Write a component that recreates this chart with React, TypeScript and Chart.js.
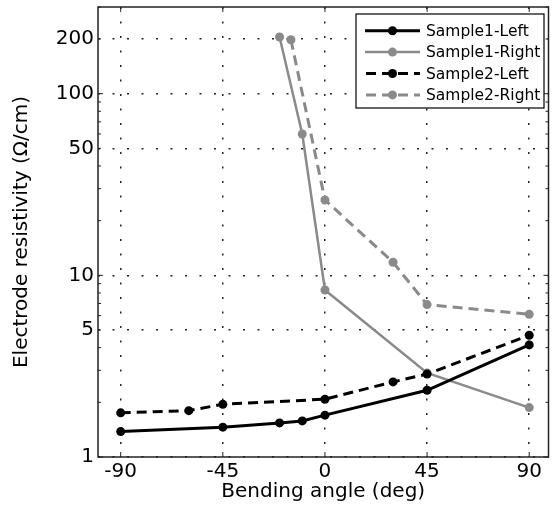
import React, { useEffect, useRef } from "react";
import { Chart, registerables } from "chart.js";

Chart.register(...registerables);

// ---- Data ----
const angles1L = [-90, -45, -20, -10, 0, 45, 90];
const values1L = [1.38, 1.46, 1.54, 1.58, 1.7, 2.33, 4.14];
const angles1R = [-20, -10, 0, 45, 90];
const values1R = [205, 60, 8.3, 2.9, 1.87];
const angles2L = [-90, -60, -45, 0, 30, 45, 90];
const values2L = [1.75, 1.8, 1.95, 2.08, 2.59, 2.86, 4.68];
const angles2R = [-15, 0, 30, 45, 90];
const values2R = [198, 26, 11.8, 6.9, 6.1];
const xTickValues = [-90, -45, 0, 45, 90];
const yTickValues = [1, 5, 10, 50, 100, 200];
const seriesNames = ["Sample1-Left", "Sample1-Right", "Sample2-Left", "Sample2-Right"];
const xTitle = "Bending angle (deg)";
const yTitle = "Electrode resistivity (\u03A9/cm)";

const BLACK = "#000000";
const GRAY = "#8a8a8a";
const FONT = "'DejaVu Sans', sans-serif";
const DASH = [10, 6];

const pts = (xs: number[], ys: number[]) => xs.map((x, i) => ({ x, y: ys[i] }));

const framePlugin = {
  id: "frame",
  afterDraw(chart: any) {
    const { ctx, chartArea: a, scales } = chart;
    const xs = scales.x;
    const ys = scales.y;
    ctx.save();
    ctx.strokeStyle = "#222";
    ctx.lineWidth = 1.5;
    ctx.setLineDash([]);
    ctx.strokeRect(a.left, a.top, a.right - a.left, a.bottom - a.top);
    ctx.lineWidth = 1;
    ctx.beginPath();
    xTickValues.forEach((v) => {
      const px = xs.getPixelForValue(v);
      ctx.moveTo(px, a.bottom);
      ctx.lineTo(px, a.bottom - 5);
      ctx.moveTo(px, a.top);
      ctx.lineTo(px, a.top + 5);
    });
    for (let d = 1; d <= 100; d *= 10) {
      for (let m = 1; m <= 9; m++) {
        const v = d * m;
        if (v < ys.min || v > ys.max) continue;
        const py = ys.getPixelForValue(v);
        const len = m === 1 ? 5 : 3;
        ctx.moveTo(a.left, py);
        ctx.lineTo(a.left + len, py);
        ctx.moveTo(a.right, py);
        ctx.lineTo(a.right - len, py);
      }
    }
    ctx.stroke();
    ctx.restore();
  },
};

const legendPlugin = {
  id: "customLegend",
  afterDraw(chart: any) {
    const { ctx } = chart;
    const bx = 356, by = 14, bw = 188, bh = 94;
    ctx.save();
    ctx.fillStyle = "#ffffff";
    ctx.fillRect(bx, by, bw, bh);
    ctx.strokeStyle = "#000";
    ctx.lineWidth = 1.2;
    ctx.setLineDash([]);
    ctx.strokeRect(bx, by, bw, bh);
    chart.data.datasets.forEach((ds: any, i: number) => {
      const y = 30.7 + i * 21.4;
      ctx.strokeStyle = ds.borderColor;
      ctx.lineWidth = ds.borderWidth;
      ctx.setLineDash(ds.borderDash || []);
      ctx.lineDashOffset = ds.borderDash ? -1 : 0;
      ctx.beginPath();
      ctx.moveTo(365, y);
      ctx.lineTo(420, y);
      ctx.stroke();
      ctx.setLineDash([]);
      ctx.fillStyle = ds.pointBackgroundColor;
      ctx.beginPath();
      ctx.arc(392.5, y, 4.5, 0, Math.PI * 2);
      ctx.fill();
      ctx.fillStyle = "#000";
      ctx.font = `15.5px ${FONT}`;
      ctx.textBaseline = "middle";
      ctx.textAlign = "left";
      ctx.fillText(seriesNames[i], 426, y + 1);
    });
    ctx.restore();
  },
};

export default function App() {
  const ref = useRef<HTMLCanvasElement | null>(null);
  useEffect(() => {
    if (!ref.current) return;
    const mk = (i: number, xs: number[], ys: number[], color: string, width: number, dashed: boolean, order: number) => ({
      label: seriesNames[i],
      data: pts(xs, ys),
      borderColor: color,
      backgroundColor: color,
      pointBackgroundColor: color,
      pointBorderColor: color,
      pointBorderWidth: 0,
      pointRadius: 4.5,
      borderWidth: width,
      borderDash: dashed ? DASH : undefined,
      showLine: true,
      tension: 0,
      order,
    });
    const chart = new Chart(ref.current, {
      type: "line",
      data: {
        datasets: [
          mk(0, angles1L, values1L, BLACK, 3, false, 1),
          mk(1, angles1R, values1R, GRAY, 2.5, false, 3),
          mk(2, angles2L, values2L, BLACK, 3, true, 2),
          mk(3, angles2R, values2R, GRAY, 3, true, 4),
        ],
      },
      options: {
        responsive: false,
        animation: false,
        devicePixelRatio: 1,
        layout: { padding: { left: 0, top: 7, right: 2, bottom: 0 } },
        plugins: { legend: { display: false }, tooltip: { enabled: false } },
        scales: {
          x: {
            type: "linear",
            min: -100,
            max: 98.5,
            afterBuildTicks: (s: any) => {
              s.ticks = xTickValues.map((v) => ({ value: v }));
            },
            afterFit: (s: any) => {
              s.height = 54;
              s.paddingLeft = 0;
              s.paddingRight = 0;
            },
            ticks: {
              color: "#000",
              font: { family: FONT, size: 20 },
              padding: 3,
              maxRotation: 0,
              autoSkip: false,
              callback: (v: any) => String(v),
            },
            grid: { color: "#222", lineWidth: 1.5, drawTicks: false },
            border: { display: false, dash: [2, 12.5] },
            title: {
              display: true,
              text: xTitle,
              color: "#000",
              font: { family: FONT, size: 20 },
              padding: { top: 0, bottom: 7 },
            },
          },
          y: {
            type: "logarithmic",
            min: 1,
            max: 300,
            afterBuildTicks: (s: any) => {
              s.ticks = yTickValues.map((v) => ({ value: v }));
            },
            afterFit: (s: any) => {
              s.width = 98;
              s.paddingTop = 0;
              s.paddingBottom = 0;
            },
            ticks: {
              color: "#000",
              font: { family: FONT, size: 20 },
              padding: 4,
              autoSkip: false,
              callback: (v: any) => String(v),
            },
            grid: { color: "#222", lineWidth: 1.5, drawTicks: false },
            border: { display: false, dash: [2, 12.5] },
            title: {
              display: true,
              text: yTitle,
              color: "#000",
              font: { family: FONT, size: 20 },
              padding: { top: 10, bottom: 0 },
            },
          },
        },
      },
      plugins: [framePlugin, legendPlugin],
    });
    return () => chart.destroy();
  }, []);
  return (
    <div style={{ position: "fixed", left: 0, top: 0, width: 553, height: 511, overflow: "hidden", background: "#fff" }}>
      <canvas ref={ref} width={553} height={511} style={{ width: 553, height: 511, display: "block" }} />
    </div>
  );
}
